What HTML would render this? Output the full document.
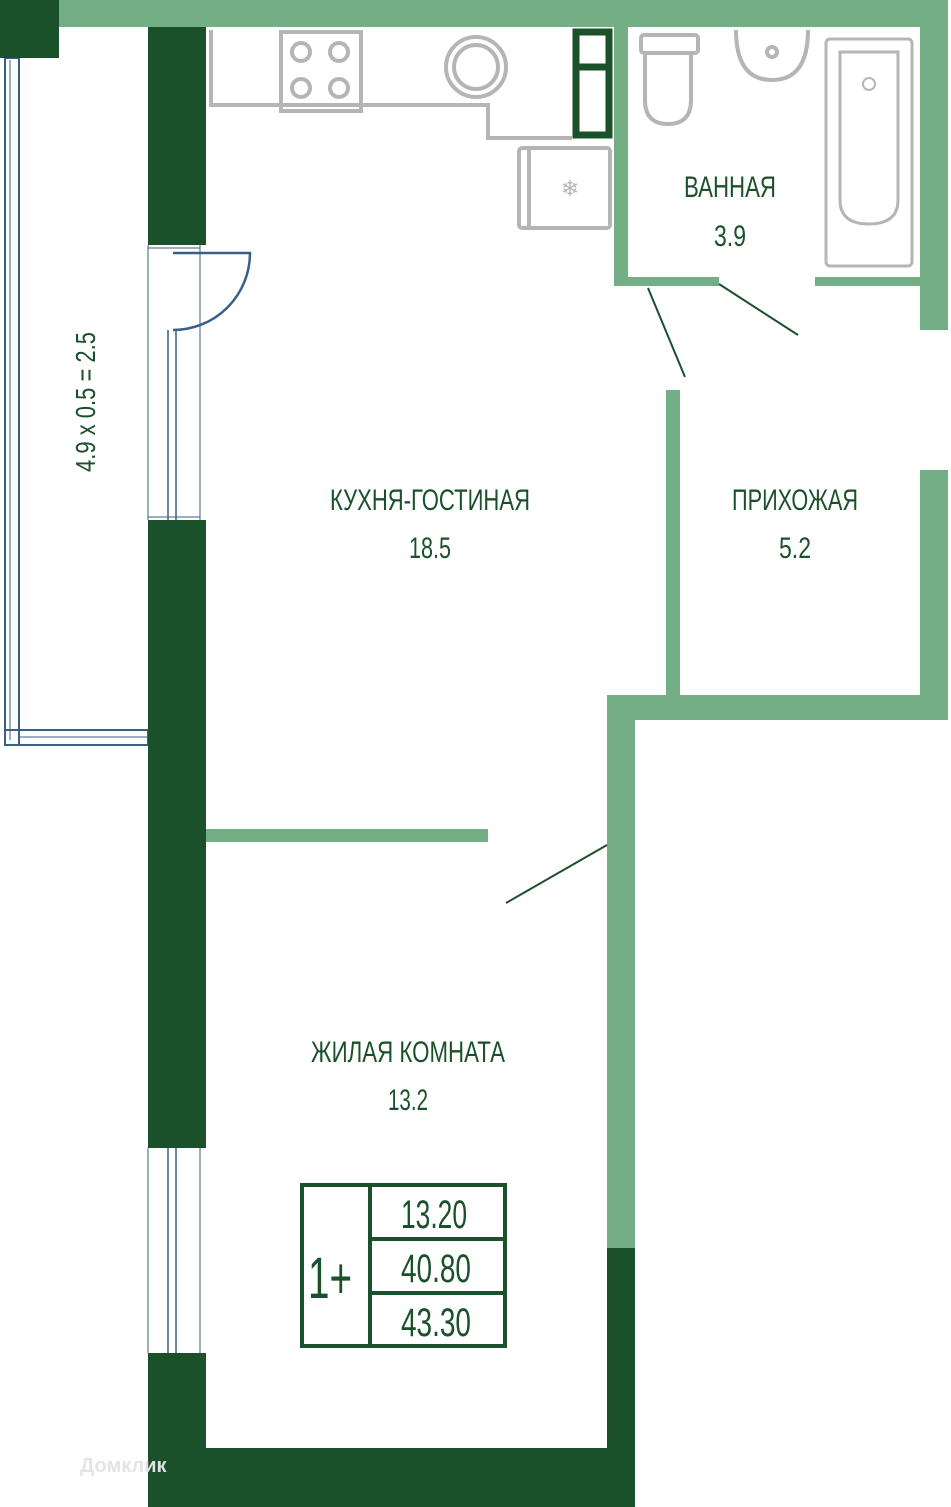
<!DOCTYPE html>
<html><head><meta charset="utf-8"><style>
html,body{margin:0;padding:0;background:#fff}
svg{display:block}
text{font-family:"Liberation Sans",sans-serif;fill:#1a512a}
</style></head><body>
<svg width="951" height="1507" viewBox="0 0 951 1507" xmlns="http://www.w3.org/2000/svg">
<!-- balcony -->
<g fill="none" stroke="#3a5f85">
<rect x="5" y="58" width="14" height="687" stroke-width="2"/>
<line x1="10" y1="60" x2="10" y2="740" stroke-width="1"/>
<rect x="5" y="730" width="143" height="15" stroke-width="2"/>
<line x1="19" y1="737" x2="148" y2="737" stroke-width="1"/>
<line x1="148" y1="245" x2="148" y2="520" stroke-width="1"/>
<line x1="200" y1="245" x2="200" y2="520" stroke-width="1"/>
<line x1="168" y1="330" x2="168" y2="520" stroke-width="1.5"/>
<line x1="176" y1="330" x2="176" y2="520" stroke-width="1.5"/>
<line x1="148" y1="1148" x2="148" y2="1353" stroke-width="1"/>
<line x1="200" y1="1148" x2="200" y2="1353" stroke-width="1"/>
<line x1="168" y1="1148" x2="168" y2="1353" stroke-width="1.5"/>
<line x1="176" y1="1148" x2="176" y2="1353" stroke-width="1.5"/>
<line x1="148" y1="248" x2="200" y2="248" stroke-width="1"/>
<line x1="148" y1="517" x2="200" y2="517" stroke-width="1"/>
<path d="M173 253 H250 A77 77 0 0 1 173 330" stroke-width="2.5"/>
</g>
<!-- walls -->
<g fill="#74ae85">
<rect x="59" y="0" width="889" height="27"/>
<rect x="920" y="0" width="28" height="330"/>
<rect x="614" y="27" width="14" height="258"/>
<rect x="614" y="277" width="105" height="9"/>
<rect x="815" y="277" width="105" height="9"/>
<rect x="666" y="390" width="14" height="305"/>
<rect x="920" y="470" width="28" height="225"/>
<rect x="607" y="695" width="341" height="25"/>
<rect x="607" y="695" width="28" height="553"/>
<rect x="206" y="829" width="282" height="13"/>
</g>
<g fill="#1a512a">
<rect x="0" y="0" width="59" height="58"/>
<rect x="148" y="27" width="58" height="218"/>
<rect x="148" y="520" width="58" height="628"/>
<rect x="148" y="1353" width="58" height="154"/>
<rect x="148" y="1448" width="487" height="59"/>
<rect x="607" y="1248" width="28" height="259"/>
</g>
<g stroke="#1a512a" stroke-width="2">
<line x1="648" y1="288" x2="685" y2="377"/>
<line x1="719" y1="284" x2="798" y2="335"/>
<line x1="506" y1="903" x2="607" y2="845"/>
</g>
<!-- kitchen -->
<g fill="none" stroke="#b5b5b5" stroke-width="4">
<path d="M211 30 V105 H488 V138 H572"/>
<rect x="281" y="32" width="80" height="79"/>
<circle cx="301" cy="52" r="9"/><circle cx="339" cy="52" r="9"/>
<circle cx="301" cy="88" r="9"/><circle cx="339" cy="88" r="9"/>
<circle cx="476" cy="67" r="30"/><circle cx="476" cy="67" r="22"/>
<rect x="519" y="148" width="91" height="80" rx="3"/>
<line x1="529" y1="148" x2="529" y2="228"/>
<rect x="641" y="35" width="57" height="18" rx="3"/>
<path d="M645 53 V100 Q645 124 668 124 Q691 124 691 100 V53"/>
<path d="M736 30 Q736 80 772 80 Q808 80 808 30"/>
<circle cx="772" cy="52" r="5"/>
<rect x="826" y="39" width="86" height="227" rx="4" stroke-width="3"/>
<path d="M840 52 H898 V200 Q898 224 869 224 Q840 224 840 200 Z" stroke-width="3"/>
<circle cx="869" cy="84" r="6" stroke-width="2"/>
</g>
<text x="570" y="196" font-size="22" style="fill:#b5b5b5" text-anchor="middle">❄</text>
<rect x="576" y="32" width="33" height="103" fill="none" stroke="#1a512a" stroke-width="7"/>
<line x1="576" y1="67" x2="609" y2="67" stroke="#1a512a" stroke-width="7"/>
<!-- labels -->
<g font-size="30" text-anchor="middle">
<text x="730" y="197" textLength="92" lengthAdjust="spacingAndGlyphs">ВАННАЯ</text>
<text x="730" y="246" textLength="32" lengthAdjust="spacingAndGlyphs">3.9</text>
<text x="430" y="510" textLength="200" lengthAdjust="spacingAndGlyphs">КУХНЯ-ГОСТИНАЯ</text>
<text x="430" y="558" textLength="42" lengthAdjust="spacingAndGlyphs">18.5</text>
<text x="795" y="510" textLength="126" lengthAdjust="spacingAndGlyphs">ПРИХОЖАЯ</text>
<text x="795" y="558" textLength="32" lengthAdjust="spacingAndGlyphs">5.2</text>
<text x="408" y="1062" textLength="194" lengthAdjust="spacingAndGlyphs">ЖИЛАЯ КОМНАТА</text>
<text x="408" y="1110" textLength="40" lengthAdjust="spacingAndGlyphs">13.2</text>
</g>
<text transform="translate(95,402) rotate(-90)" font-size="28" text-anchor="middle" textLength="140" lengthAdjust="spacingAndGlyphs">4.9 x 0.5 = 2.5</text>
<!-- table -->
<g fill="none" stroke="#1a512a" stroke-width="4">
<rect x="302" y="1185" width="203" height="161"/>
<line x1="370" y1="1185" x2="370" y2="1346"/>
<line x1="370" y1="1239" x2="505" y2="1239"/>
<line x1="370" y1="1293" x2="505" y2="1293"/>
</g>
<g font-size="40" text-anchor="middle">
<text x="330" y="1298" font-size="58" textLength="44" lengthAdjust="spacingAndGlyphs">1+</text>
<text x="434" y="1228" textLength="66" lengthAdjust="spacingAndGlyphs">13.20</text>
<text x="436" y="1282" textLength="70" lengthAdjust="spacingAndGlyphs">40.80</text>
<text x="436" y="1336" textLength="70" lengthAdjust="spacingAndGlyphs">43.30</text>
</g>
<text x="80" y="1472" font-size="20" font-weight="bold" style="fill:#e4e4e4">Домклик</text>
</svg>
</body></html>
